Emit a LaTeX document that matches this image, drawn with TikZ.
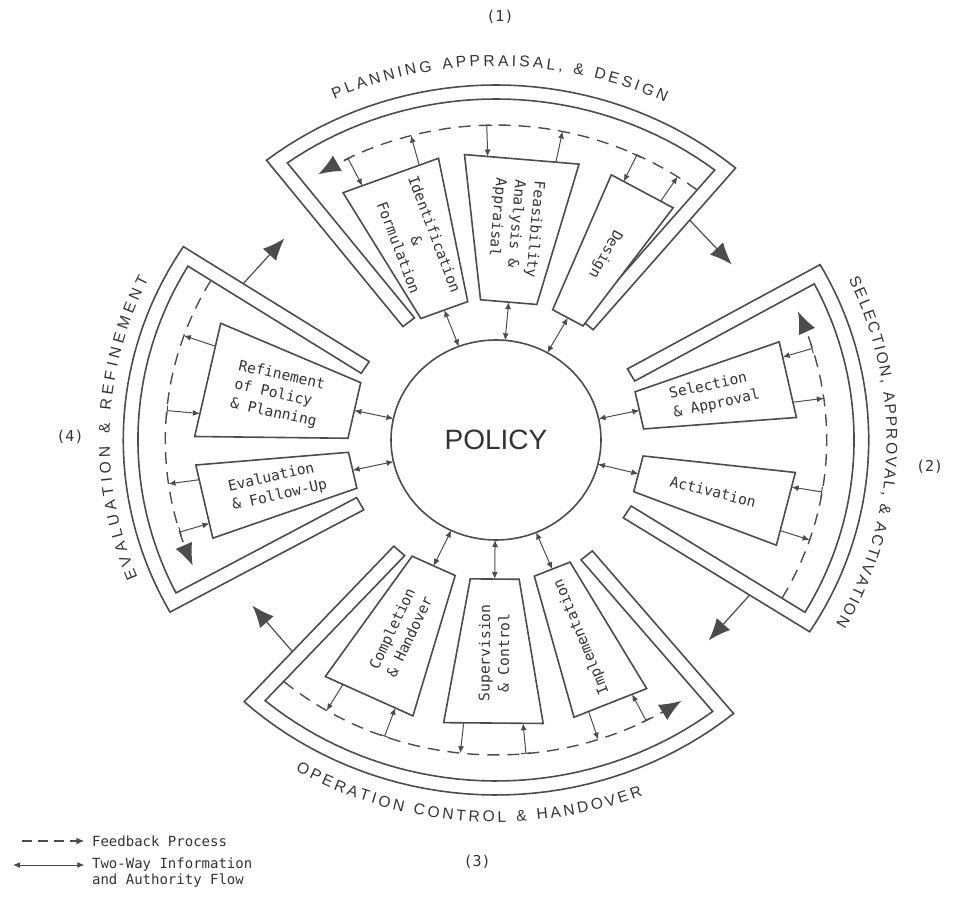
\documentclass[tikz,border=0pt]{standalone}
\usepackage{fontspec}
\setsansfont{Liberation Sans}
\setmonofont{DejaVu Sans Mono}
\usetikzlibrary{arrows.meta,calc,decorations.text,shapes.geometric}

\newcommand\phasefont{\sffamily\fontsize{7.8}{9}\selectfont}

\tikzset{
  frame/.style={line width=0.8pt, draw=black!70},
  box/.style={line width=0.8pt, draw=black!70, fill=white},
  boxtext/.style={font=\ttfamily\fontsize{7.3}{9.6}\selectfont, text=black!80, inner sep=0pt},
  feedback/.style={line width=0.7pt, draw=black!70, dash pattern=on 6pt off 4pt},
  twoway/.style={{Latex[length=3.5pt,width=3pt]}-{Latex[length=3.5pt,width=3pt]}, line width=0.5pt, draw=black!70},
  fbout/.style={-{Latex[length=3.5pt,width=3pt]}, line width=0.5pt, draw=black!70},
  fbin/.style={{Bar[width=5pt]}-{Latex[length=3.5pt,width=3pt]}, line width=0.5pt, draw=black!70},
  phase/.style={-{Latex[length=11pt,width=9pt]}, line width=0.6pt, draw=black!70},
  numtext/.style={font=\ttfamily\fontsize{7.5}{9}\selectfont, text=black!80},
  legendtext/.style={font=\ttfamily\fontsize{7}{8}\selectfont, text=black!80, align=left, inner sep=0pt}
}

\begin{document}
\begin{tikzpicture}[x=0.525pt, y=0.5pt]
\useasboundingbox (-472.38,-457) rectangle (436.19,440);

% the four phases: frame, feedback loop and the arrow to the next phase
\foreach \a/\b/\s in {50/128/plan, -32.7/29.6/sel, 227.5/309.6/oper, 147/209/eval}{
  \pgfmathsetmacro\ai{\a+asin(14/341)}
  \pgfmathsetmacro\bi{\b-asin(14/341)}
  \draw[frame] (\a:144) -- (\a:355)
    -- plot[domain=\a:\b, samples=40, variable=\ang] (\ang:355)
    -- (\b:144) -- ($(\b:144)+({\b-90}:14)$) -- (\bi:341)
    -- plot[domain=\bi:\ai, samples=40, variable=\ang] (\ang:341)
    -- ($(\a:144)+({\a+90}:14)$) -- cycle;
  \pgfmathsetmacro\ds{\a+2.6}
  \pgfmathsetmacro\de{\b-5.5}
  \draw[feedback, -{Latex[length=11pt,width=9pt]}]
    plot[domain=\ds:\de, samples=30, variable=\ang] (\ang:315);
  \pgfmathsetmacro\nx{\a-12}
  \coordinate (\s-exit) at (\a:287);
  \coordinate (\s-next) at (\nx:285);
  \draw[phase] (\s-exit) -- (\s-next);
}

\node[draw=black!70, line width=0.8pt, ellipse, minimum width=105pt, minimum height=100pt,
  inner sep=0pt, font=\sffamily\fontsize{14}{14}\selectfont, text=black!80] (policy) at (0,0) {POLICY};

% activity boxes
\foreach \p/\q/\nm/\lab/\flip/\al in {
  101/120.5/ident/{Identification\\\&\\Formulation}/180/center,
  74/96/feas/{Feasibility\\Analysis \&\\Appraisal}/180/left,
  54/67.5/design/{Design}/180/center,
  4.5/20/selapp/{Selection\\\& Approval}/0/left,
  -21.5/-6.5/activ/{Activation}/0/center,
  235.5/254/compl/{Completion\\\& Handover}/180/left,
  260/279/superv/{Supervision\\\& Control}/180/center,
  285/300/implem/{Implementation}/180/center,
  156/179.3/refine/{Refinement\\of Policy\\\& Planning}/180/left,
  185/200/evalfu/{Evaluation\\\& Follow-Up}/180/left}{
  \pgfmathsetmacro\cang{(\p+\q)/2}
  \pgfmathsetmacro\hw{(\q-\p)/2}
  \pgfmathsetmacro\rot{\cang-\flip}
  \draw[box] (\p:141) -- (\p:287) -- (\q:287) -- (\q:141) -- cycle;
  \node[boxtext, align=\al, rotate=\rot] (\nm) at (\cang:213) {\lab};
  \pgfmathsetmacro\rbase{141*cos(\hw)}
  \coordinate (\nm-base) at (\cang:\rbase);
  \coordinate (\nm-pol) at (\cang:100);
  \draw[twoway] (\nm-pol) -- (\nm-base);
  \pgfmathsetmacro\angout{\p+0.4*\hw}
  \pgfmathsetmacro\angin{\q-0.4*\hw}
  \pgfmathsetmacro\rout{287*cos(\hw)/cos(\angout-\cang)}
  \pgfmathsetmacro\rinn{287*cos(\hw)/cos(\angin-\cang)}
  \coordinate (\nm-o1) at (\angout:\rout);
  \coordinate (\nm-f1) at (\angout:315);
  \coordinate (\nm-o2) at (\angin:\rinn);
  \coordinate (\nm-f2) at (\angin:315);
  \draw[fbout] (\nm-o1) -- (\nm-f1);
  \draw[fbin] (\nm-f2) -- (\nm-o2);
}

% phase titles
\path[decorate, decoration={text along path, text align=fit to path, text color=black!80,
  text={|\phasefont|PLANNING APPRAISAL, {\&} DESIGN}}]
  plot[domain=114.3:64.5, samples=50, variable=\ang] (\ang:374);
\path[decorate, decoration={text along path, text align=fit to path, text color=black!80,
  text={|\phasefont|SELECTION, APPROVAL, {\&} ACTIVATION}}]
  plot[domain=25.5:-29.6, samples=50, variable=\ang] (\ang:372);
\path[decorate, decoration={text along path, text align=fit to path, text color=black!80,
  text={|\phasefont|OPERATION CONTROL {\&} HANDOVER}}]
  plot[domain=240:291.5, samples=50, variable=\ang] (\ang:382);
\path[decorate, decoration={text along path, text align=fit to path, text color=black!80,
  text={|\phasefont|EVALUATION {\&} REFINEMENT}}]
  plot[domain=202:154, samples=50, variable=\ang] (\ang:368);

\node[numtext] (num1) at (3.8,423) {(1)};
\node[numtext] (num2) at (413,-27) {(2)};
\node[numtext] (num3) at (-18,-422) {(3)};
\node[numtext] (num4) at (-405.7,3) {(4)};

% legend
\coordinate (fb-a) at (-451,-401);
\coordinate (fb-b) at (-392,-401);
\draw[feedback, dash pattern=on 5pt off 3pt, -{Latex[length=4pt,width=3.5pt]}] (fb-a) -- (fb-b);
\node[legendtext, anchor=west] (fb-text) at (-385,-401) {Feedback Process};
\coordinate (tw-a) at (-460,-425);
\coordinate (tw-b) at (-392,-425);
\draw[twoway] (tw-a) -- (tw-b);
\node[legendtext, anchor=west] (tw-text) at (-385,-433) {Two-Way Information\\and Authority Flow};
\end{tikzpicture}
\end{document}
